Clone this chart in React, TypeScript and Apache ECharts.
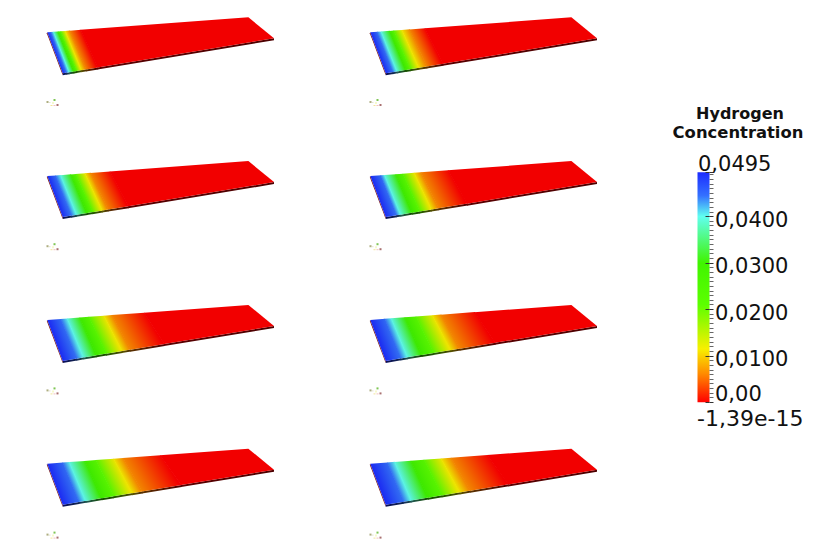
import React, { useEffect, useRef } from "react";
import * as echarts from "echarts";

const W = 823;
const H = 550;

// Colour scale (value, colour)
const scaleValues = [0.0495, 0.0445, 0.04, 0.03, 0.021, 0.0115, 0.0062, 0];
const scaleColors = ["#1c2cff", "#3470ff", "#60fff0", "#40f400", "#5cff00", "#f8f000", "#ff8c00", "#ff0000"];

// Position along the plate (0..1) at which each scale value is reached, per time step
const panel1 = [0, 0.017, 0.03, 0.052, 0.065, 0.088, 0.11, 0.165];
const panel2 = [0, 0.033, 0.053, 0.095, 0.115, 0.156, 0.194, 0.27];
const panel3 = [0, 0.04, 0.065, 0.115, 0.14, 0.186, 0.214, 0.31];
const panel4 = [0, 0.05, 0.07, 0.125, 0.16, 0.216, 0.25, 0.385];
const panel5 = [0, 0.065, 0.098, 0.16, 0.205, 0.28, 0.32, 0.48];
const panel6 = [0, 0.07, 0.103, 0.17, 0.225, 0.307, 0.35, 0.517];
const panel7 = [0, 0.075, 0.108, 0.185, 0.24, 0.328, 0.375, 0.56];
const panel8 = [0, 0.083, 0.12, 0.2, 0.265, 0.35, 0.4, 0.58];
const panels = [panel1, panel2, panel3, panel4, panel5, panel6, panel7, panel8];

const titleLines = ["Hydrogen", "Concentration"];
const tickValues = [0.01, 0.02, 0.03, 0.04];
const tickLabels = ["0,0100", "0,0200", "0,0300", "0,0400"];
const maxLabel = "0,0495";
const zeroLabel = "0,00";
const minLabel = "-1,39e-15";

const FONT = "DejaVu Sans";
const TEXT = "#111";

// plate outline in fractions of its panel grid
const corner = { tl: [0, 0.268], tr: [0.887, 0], bl: [0.068, 1], br: [1, 0.375] };
const project = (u: number, v: number) => {
  const tx = corner.tl[0] + (corner.tr[0] - corner.tl[0]) * u;
  const ty = corner.tl[1] + (corner.tr[1] - corner.tl[1]) * u;
  const bx = corner.bl[0] + (corner.br[0] - corner.bl[0]) * u;
  const by = corner.bl[1] + (corner.br[1] - corner.bl[1]) * u;
  return [tx + (bx - tx) * v, ty + (by - ty) * v];
};

const shade = (hex: string, k: number) => {
  const n = parseInt(hex.slice(1), 16);
  const c = [(n >> 16) & 255, (n >> 8) & 255, n & 255].map((x) => Math.round(x * k));
  return `rgb(${c[0]},${c[1]},${c[2]})`;
};

const gradientFor = (p0: number[], p1: number[], dir: number[], c0: string, c1: string) => {
  const len = Math.hypot(dir[0], dir[1]) || 1;
  const nx = dir[1] / len;
  const ny = -dir[0] / len;
  const d = (p1[0] - p0[0]) * nx + (p1[1] - p0[1]) * ny;
  return new echarts.graphic.LinearGradient(
    p0[0], p0[1], p0[0] + nx * d, p0[1] + ny * d,
    [{ offset: 0, color: c0 }, { offset: 1, color: c1 }],
    true
  );
};

const plateRender = (params: any, api: any) => {
  const u0 = api.value(0);
  const u1 = api.value(1);
  const c0 = String(api.value(2));
  const c1 = String(api.value(3));
  const at = (u: number, v: number) => api.coord(project(u, v));
  const overlap = u1 < 1 ? 0.003 : 0;
  const a = at(u0, 0);
  const b = at(u1 + overlap, 0);
  const c = at(u1 + overlap, 1);
  const d = at(u0, 1);
  const topDir = [d[0] - a[0], d[1] - a[1]];
  const gEnd = at(u1, 0.5);
  const gStart = at(u0, 0.5);
  const top = gradientFor(gStart, gEnd, topDir, shade(c0, 0.95), shade(c1, 0.95));
  const children: any[] = [];
  const dy = 2;
  children.push({
    type: "polygon",
    shape: { points: [d, c, [c[0], c[1] + dy], [d[0], d[1] + dy]] },
    style: { fill: gradientFor(gStart, gEnd, topDir, shade(c0, 0.35), shade(c1, 0.3)) },
  });
  if (params.dataIndex === 0) {
    children.push({
      type: "polygon",
      shape: { points: [a, d, [d[0], d[1] + dy], [a[0] - 0.5, a[1] + 1]] },
      style: { fill: "#7a1410" },
    });
  }
  children.push({ type: "polygon", shape: { points: [a, b, c, d] }, style: { fill: top } });
  return { type: "group", children };
};

const barRender = (_: any, api: any) => {
  const p0 = api.coord([0, scaleValues[0]]);
  const p1 = api.coord([1, 0]);
  const span = scaleValues[0];
  return {
    type: "rect",
    shape: { x: p0[0], y: p0[1], width: p1[0] - p0[0], height: p1[1] - p0[1] },
    style: {
      fill: new echarts.graphic.LinearGradient(
        0, 0, 0, 1,
        scaleValues.map((v, i) => ({ offset: 1 - v / span, color: scaleColors[i] }))
      ),
    },
  };
};

const triad = (x: number, y: number) => ({
  type: "group",
  x,
  y,
  silent: true,
  children: [
    { type: "rect", shape: { x: 0, y: 5, width: 2, height: 2 }, style: { fill: "#9a9a60", opacity: 0.8 } },
    { type: "rect", shape: { x: 2, y: 6, width: 2, height: 1 }, style: { fill: "#d0d0b0", opacity: 0.6 } },
    { type: "rect", shape: { x: 7, y: 3, width: 2, height: 2 }, style: { fill: "#70c040", opacity: 0.9 } },
    { type: "rect", shape: { x: 6, y: 6, width: 1, height: 2 }, style: { fill: "#e8f080", opacity: 0.8 } },
    { type: "rect", shape: { x: 4, y: 9, width: 2, height: 1 }, style: { fill: "#f0e080", opacity: 0.8 } },
    { type: "rect", shape: { x: 7, y: 9, width: 2, height: 1 }, style: { fill: "#f0b0b0", opacity: 0.8 } },
    { type: "rect", shape: { x: 10, y: 8, width: 2, height: 2 }, style: { fill: "#a06060", opacity: 0.9 } },
  ],
});

const textEl = (text: string, x: number, y: number, fontSize: number, extra: any = {}) => ({
  type: "text",
  x,
  y,
  silent: true,
  z: 10,
  style: { text, fontFamily: FONT, fontSize, fill: TEXT, verticalAlign: "middle", ...extra },
});

export default function App() {
  const ref = useRef<HTMLDivElement>(null);
  useEffect(() => {
    const chart = echarts.init(ref.current!, null, { renderer: "svg", width: W, height: H });
    const grids: any[] = [];
    const xAxes: any[] = [];
    const yAxes: any[] = [];
    const series: any[] = [];
    const graphics: any[] = [];
    panels.forEach((pos, i) => {
      const col = i % 2;
      const row = Math.floor(i / 2);
      grids.push({ left: 47.3 + 323 * col, top: 17.3 + 143.8 * row, width: 226.7, height: 56 });
      xAxes.push({ type: "value", gridIndex: i, min: 0, max: 1, show: false });
      yAxes.push({ type: "value", gridIndex: i, min: 0, max: 1, inverse: true, show: false });
      const data = pos.map((u, k) => [
        u,
        k + 1 < pos.length ? pos[k + 1] : 1,
        scaleColors[k],
        scaleColors[Math.min(k + 1, scaleColors.length - 1)],
      ]);
      series.push({
        type: "custom",
        name: `panel${i + 1}`,
        xAxisIndex: i,
        yAxisIndex: i,
        silent: true,
        clip: false,
        dimensions: [
          { name: "u0", type: "number" },
          { name: "u1", type: "number" },
          { name: "c0", type: "ordinal" },
          { name: "c1", type: "ordinal" },
        ],
        encode: { x: 0, y: 1 },
        renderItem: plateRender,
        data,
      });
      graphics.push(triad(46.5 + 323 * col, 96 + 144.2 * row));
    });

    const b = panels.length;
    grids.push({ left: 697.5, top: 172.3, width: 12, height: 230 });
    xAxes.push({ type: "value", gridIndex: b, min: 0, max: 1, show: false });
    const hiddenLine = { show: true, onZero: false, lineStyle: { color: "rgba(0,0,0,0)", width: 1 } };
    yAxes.push({
      type: "value",
      gridIndex: b,
      position: "right",
      min: 0,
      max: scaleValues[0],
      interval: 0.01,
      z: 5,
      splitLine: { show: false },
      axisLine: hiddenLine,
      axisTick: { show: true, length: 4, lineStyle: { color: "#333", width: 1 } },
      minorTick: { show: true, splitNumber: 10, length: 4, lineStyle: { color: "#666", width: 1 } },
      axisLabel: {
        show: true,
        margin: 5.5,
        fontFamily: FONT,
        fontSize: 21,
        color: TEXT,
        verticalAlign: "top",
        lineHeight: 7,
        showMinLabel: false,
        showMaxLabel: false,
        formatter: (v: number) => {
          const k = tickValues.findIndex((t) => Math.abs(t - v) < 1e-6);
          return k >= 0 ? tickLabels[k] : "";
        },
      },
    });
    yAxes.push({
      type: "value",
      gridIndex: b,
      position: "right",
      min: 0,
      max: scaleValues[0],
      interval: 0.01,
      z: 5,
      splitLine: { show: false },
      axisLine: hiddenLine,
      axisLabel: { show: false },
      axisTick: { show: true, inside: true, length: 4, lineStyle: { color: "#333", width: 1 } },
    });
    series.push({
      type: "custom",
      name: "colorbar",
      xAxisIndex: b,
      yAxisIndex: b,
      silent: true,
      clip: false,
      z: 1,
      renderItem: barRender,
      data: [[0, 0]],
    });

    graphics.push(textEl(titleLines[0], 740, 113, 16, { fontWeight: "bold", align: "center" }));
    graphics.push(textEl(titleLines[1], 738, 132, 16.4, { fontWeight: "bold", align: "center" }));
    graphics.push(textEl(maxLabel, 698, 164, 21));
    graphics.push(textEl(zeroLabel, 715, 394, 21));
    graphics.push(textEl(minLabel, 697, 418, 22));

    chart.setOption({
      animation: false,
      backgroundColor: "#ffffff",
      grid: grids,
      xAxis: xAxes,
      yAxis: yAxes,
      series,
      graphic: { elements: graphics },
    });
    return () => chart.dispose();
  }, []);
  return <div ref={ref} style={{ position: "absolute", left: 0, top: 0, width: W, height: H }} />;
}
